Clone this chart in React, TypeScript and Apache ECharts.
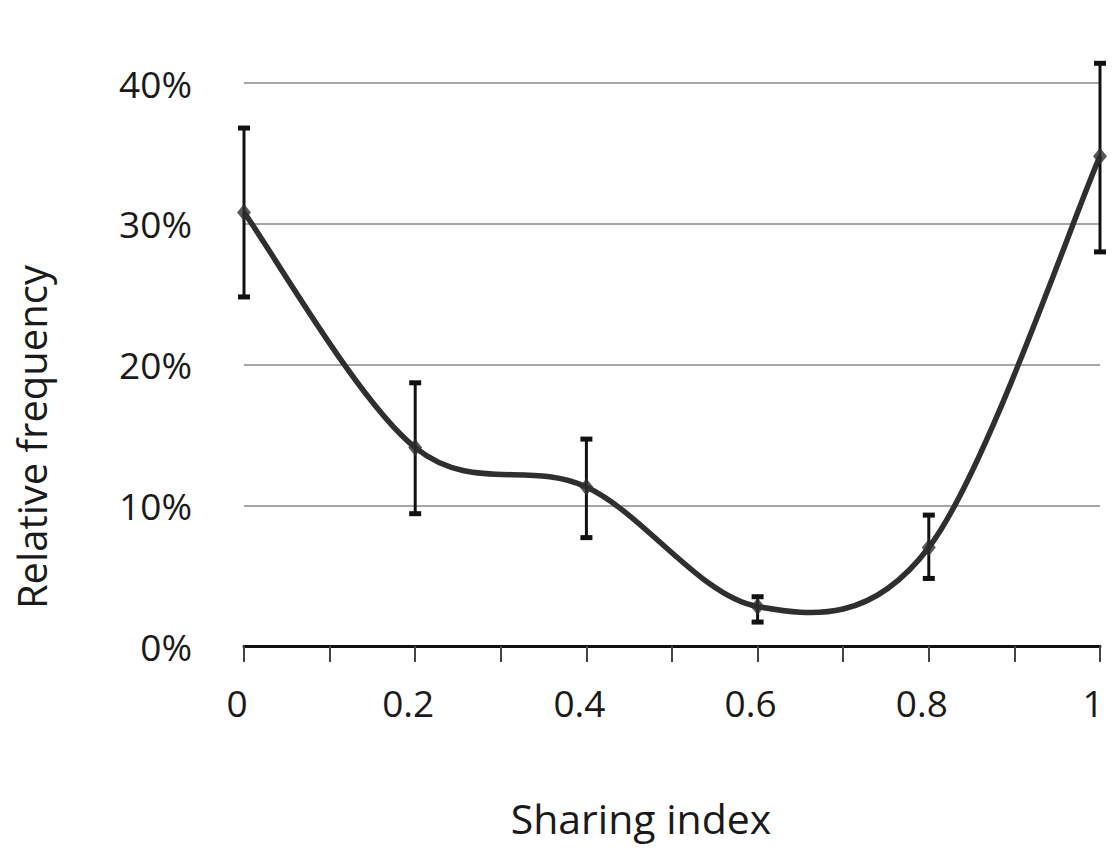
import React, { useEffect, useRef } from "react";
import * as echarts from "echarts";

// Data
const sharingIndex = [0, 0.2, 0.4, 0.6, 0.8, 1];
const relFrequency = [30.8, 14.1, 11.3, 2.8, 7.0, 34.8];
const errLow = [24.8, 9.4, 7.7, 1.7, 4.8, 28.0];
const errHigh = [36.8, 18.7, 14.7, 3.5, 9.3, 41.4];
const xTickLabels = ["0", "0.2", "0.4", "0.6", "0.8", "1"];
const yTicks = [0, 10, 20, 30, 40];

const FONT = "'Open Sans', 'Noto Sans', sans-serif";

export default function App() {
  const ref = useRef<HTMLDivElement>(null);

  useEffect(() => {
    document.body.style.margin = "0";
    if (!ref.current) return;
    const chart = echarts.init(ref.current, undefined, { renderer: "svg" });
    const n = sharingIndex.length;

    const curveRender = (params: any, api: any) => {
      const i = params.dataIndex;
      if (i >= n - 1) return null;
      const pt = (j: number) => {
        const k = Math.max(0, Math.min(n - 1, j));
        return api.coord([sharingIndex[k], relFrequency[k]]);
      };
      const p0 = pt(i - 1);
      const p1 = pt(i);
      const p2 = pt(i + 1);
      const p3 = pt(i + 2);
      const t = 1 / 6;
      return {
        type: "bezierCurve",
        shape: {
          x1: p1[0],
          y1: p1[1],
          x2: p2[0],
          y2: p2[1],
          cpx1: p1[0] + (p2[0] - p0[0]) * t,
          cpy1: p1[1] + (p2[1] - p0[1]) * t,
          cpx2: p2[0] - (p3[0] - p1[0]) * t,
          cpy2: p2[1] - (p3[1] - p1[1]) * t,
        },
        style: { stroke: "#2f2f2f", lineWidth: 5.5, fill: "none" },
      };
    };

    const errRender = (params: any, api: any) => {
      const x = api.value(0);
      const lo = api.coord([x, api.value(1)]);
      const hi = api.coord([x, api.value(2)]);
      const capW = 6;
      return {
        type: "group",
        children: [
          {
            type: "line",
            shape: { x1: lo[0], y1: lo[1], x2: hi[0], y2: hi[1] },
            style: { stroke: "#111111", lineWidth: 3 },
          },
          {
            type: "line",
            shape: { x1: lo[0] - capW, y1: lo[1], x2: lo[0] + capW, y2: lo[1] },
            style: { stroke: "#111111", lineWidth: 5 },
          },
          {
            type: "line",
            shape: { x1: hi[0] - capW, y1: hi[1], x2: hi[0] + capW, y2: hi[1] },
            style: { stroke: "#111111", lineWidth: 5 },
          },
        ],
      };
    };

    chart.setOption({
      animation: false,
      backgroundColor: "#ffffff",
      textStyle: { fontFamily: FONT },
      grid: { left: 244, right: 19, top: 83, bottom: 204, containLabel: false },
      xAxis: {
        type: "value",
        min: 0,
        max: 1,
        interval: 0.1,
        axisLine: { show: true, onZero: false, lineStyle: { color: "#111111", width: 3 } },
        axisTick: { show: true, length: 16, lineStyle: { color: "#444444", width: 2 } },
        splitLine: { show: false },
        axisLabel: {
          margin: 38,
          fontSize: 37,
          color: "#1a1a1a",
          fontFamily: FONT,
          padding: [0, 14, 0, 0],
          formatter: (v: number) => {
            const idx = sharingIndex.findIndex((s) => Math.abs(s - v) < 1e-6);
            return idx >= 0 ? xTickLabels[idx] : "";
          },
        },
      },
      yAxis: {
        type: "value",
        min: yTicks[0],
        max: yTicks[yTicks.length - 1],
        interval: 10,
        axisLine: { show: false },
        axisTick: { show: false },
        splitLine: { show: true, lineStyle: { color: "#a6a6a6", width: 2 } },
        axisLabel: {
          margin: 52,
          fontSize: 37,
          color: "#1a1a1a",
          fontFamily: FONT,
          formatter: "{value}%",
        },
      },
      graphic: [
        {
          type: "text",
          x: 31,
          y: 437,
          rotation: Math.PI / 2,
          style: {
            text: "Relative frequency",
            font: `40px ${FONT}`,
            fill: "#1a1a1a",
            align: "center",
            verticalAlign: "middle",
          },
        },
        {
          type: "text",
          x: 641,
          y: 818,
          style: {
            text: "Sharing index",
            font: `41px ${FONT}`,
            fill: "#1a1a1a",
            align: "center",
            verticalAlign: "middle",
          },
        },
      ],
      series: [
        {
          type: "custom",
          name: "curve",
          renderItem: curveRender,
          data: sharingIndex.map((x, i) => [x, relFrequency[i]]),
          encode: { x: 0, y: 1 },
          clip: false,
          z: 3,
        },
        {
          type: "custom",
          name: "error",
          renderItem: errRender,
          data: sharingIndex.map((x, i) => [x, errLow[i], errHigh[i]]),
          encode: { x: 0, y: [1, 2] },
          clip: false,
          z: 4,
        },
        {
          type: "scatter",
          name: "points",
          data: sharingIndex.map((x, i) => [x, relFrequency[i]]),
          symbol: "diamond",
          symbolSize: [14, 17],
          itemStyle: { color: "#2f2f2f" },
          clip: false,
          z: 5,
        },
      ],
    });

    return () => chart.dispose();
  }, []);

  return <div ref={ref} style={{ width: 1119, height: 850 }} />;
}
